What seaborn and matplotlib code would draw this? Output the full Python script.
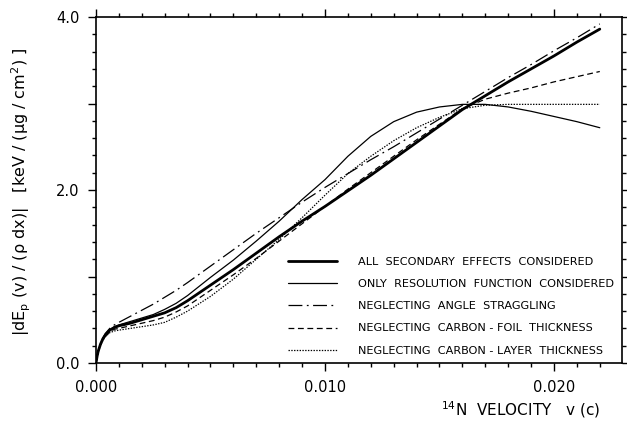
import numpy as np
import pandas as pd
import matplotlib
matplotlib.use("Agg")
import matplotlib.pyplot as plt
from matplotlib.ticker import MultipleLocator, FuncFormatter
import seaborn as sns

# ---- data ----
velocity = [0.0, 0.00005, 0.0001, 0.0002, 0.0003, 0.0004, 0.0006, 0.0008, 0.001,
            0.0015, 0.002, 0.0025, 0.003, 0.0035, 0.004, 0.005, 0.006, 0.007, 0.008,
            0.009, 0.010, 0.011, 0.012, 0.013, 0.014, 0.015, 0.016, 0.017, 0.018,
            0.019, 0.020, 0.021, 0.022]

all_effects = [0.0, 0.08, 0.14, 0.22, 0.28, 0.32, 0.38, 0.41, 0.43,
               0.46, 0.50, 0.54, 0.58, 0.64, 0.72, 0.90, 1.08, 1.27, 1.46,
               1.64, 1.81, 1.99, 2.17, 2.36, 2.55, 2.74, 2.93, 3.09, 3.25,
               3.40, 3.55, 3.71, 3.86]

only_resolution = [0.0, 0.08, 0.14, 0.22, 0.28, 0.32, 0.38, 0.42, 0.44,
                   0.48, 0.52, 0.56, 0.62, 0.69, 0.78, 0.99, 1.19, 1.41, 1.64,
                   1.89, 2.12, 2.39, 2.62, 2.79, 2.90, 2.96, 2.99, 2.99, 2.96,
                   2.91, 2.85, 2.79, 2.72]

no_angle_straggling = [0.0, 0.08, 0.14, 0.22, 0.29, 0.34, 0.40, 0.44, 0.47,
                       0.54, 0.61, 0.68, 0.76, 0.84, 0.93, 1.12, 1.31, 1.50, 1.68,
                       1.86, 2.03, 2.19, 2.35, 2.50, 2.66, 2.82, 2.98, 3.14, 3.30,
                       3.45, 3.61, 3.76, 3.92]

no_foil_thickness = [0.0, 0.08, 0.13, 0.21, 0.27, 0.31, 0.36, 0.39, 0.40,
                     0.43, 0.46, 0.49, 0.53, 0.59, 0.66, 0.84, 1.02, 1.21, 1.41,
                     1.61, 1.81, 2.01, 2.20, 2.39, 2.58, 2.76, 2.94, 3.05, 3.12,
                     3.18, 3.25, 3.31, 3.37]

no_layer_thickness = [0.0, 0.07, 0.13, 0.20, 0.26, 0.30, 0.35, 0.37, 0.38,
                      0.40, 0.42, 0.44, 0.47, 0.53, 0.60, 0.77, 0.97, 1.20, 1.43,
                      1.68, 1.94, 2.19, 2.39, 2.57, 2.72, 2.84, 2.94, 2.98, 2.99,
                      2.99, 2.99, 2.99, 2.99]

labels = ["ALL  SECONDARY  EFFECTS  CONSIDERED",
          "ONLY  RESOLUTION  FUNCTION  CONSIDERED",
          "NEGLECTING  ANGLE  STRAGGLING",
          "NEGLECTING  CARBON - FOIL  THICKNESS",
          "NEGLECTING  CARBON - LAYER  THICKNESS"]

series = [all_effects, only_resolution, no_angle_straggling,
          no_foil_thickness, no_layer_thickness]

# ---- styling ----
sns.set_style("ticks")
plt.rcParams["font.family"] = ["DejaVu Sans"]
plt.rcParams["lines.scale_dashes"] = False
for key in ("text.color", "axes.labelcolor", "xtick.color", "ytick.color",
            "axes.edgecolor"):
    plt.rcParams[key] = "black"

styles = [
    dict(lw=2.0, ls="-"),
    dict(lw=0.9, ls="-"),
    dict(lw=0.9, ls=(0, (10, 3.2, 1.3, 3.2))),
    dict(lw=0.9, ls=(0, (4.2, 2.6))),
    dict(lw=0.9, ls=(0, (1.0, 1.0))),
]

fig = plt.figure(figsize=(6.27, 4.21), dpi=100)
ax = fig.add_axes([96 / 627, 1 - 363 / 421, (622 - 96) / 627, (363 - 17) / 421])

handles = []
for lab, vals, st in zip(labels, series, styles):
    df = pd.DataFrame({"v": velocity, "E": vals})
    sns.lineplot(data=df, x="v", y="E", ax=ax, color="black",
                 linewidth=st["lw"], linestyle=st["ls"], label=lab, legend=False)
    handles.append(ax.get_lines()[-1])

ax.set_xlim(0, 0.02297)
ax.set_ylim(0, 4.0)

ax.xaxis.set_major_locator(MultipleLocator(0.010))
ax.xaxis.set_minor_locator(MultipleLocator(0.001))
ax.xaxis.set_major_formatter(FuncFormatter(lambda x, p: f"{x:.3f}"))
ax.yaxis.set_major_locator(MultipleLocator(1.0))
ax.yaxis.set_minor_locator(MultipleLocator(0.2))
ax.yaxis.set_major_formatter(
    FuncFormatter(lambda y, p: f"{y:.1f}" if abs(round(y) % 2) < 1e-9 else ""))

for sp in ax.spines.values():
    sp.set_visible(True)
    sp.set_linewidth(1.2)
    sp.set_color("black")

ax.tick_params(which="both", direction="out", top=True, right=True,
               bottom=True, left=True, labeltop=False, labelright=False,
               color="black", labelcolor="black", width=1.0)
ax.tick_params(which="major", length=6, labelsize=10.5, pad=6)
ax.tick_params(which="minor", length=3)

ax.set_xlabel(r"$^{14}$N  VELOCITY   v (c)", fontsize=11, color="black")
ax.xaxis.set_label_coords((600 - 96) / 526, (363 - 399) / 346)
ax.xaxis.label.set_horizontalalignment("right")

ax.set_ylabel(r"|dE$_\mathrm{p}$ (v) / (ρ dx)|   [keV / (µg / cm$^2$) ]",
              fontsize=11.5, color="black")
ax.yaxis.set_label_coords((33 - 96) / 526, (363 - 192) / 346)

leg = ax.legend(handles=handles, labels=labels, loc="upper left",
                bbox_to_anchor=((288 - 96) / 526, (363 - 257) / 346),
                frameon=False, fontsize=8.1, handlelength=4.35,
                handletextpad=1.85, labelspacing=1.08, borderpad=0,
                borderaxespad=0)
for t in leg.get_texts():
    t.set_color("black")

fig.savefig("out.png", dpi=100)
